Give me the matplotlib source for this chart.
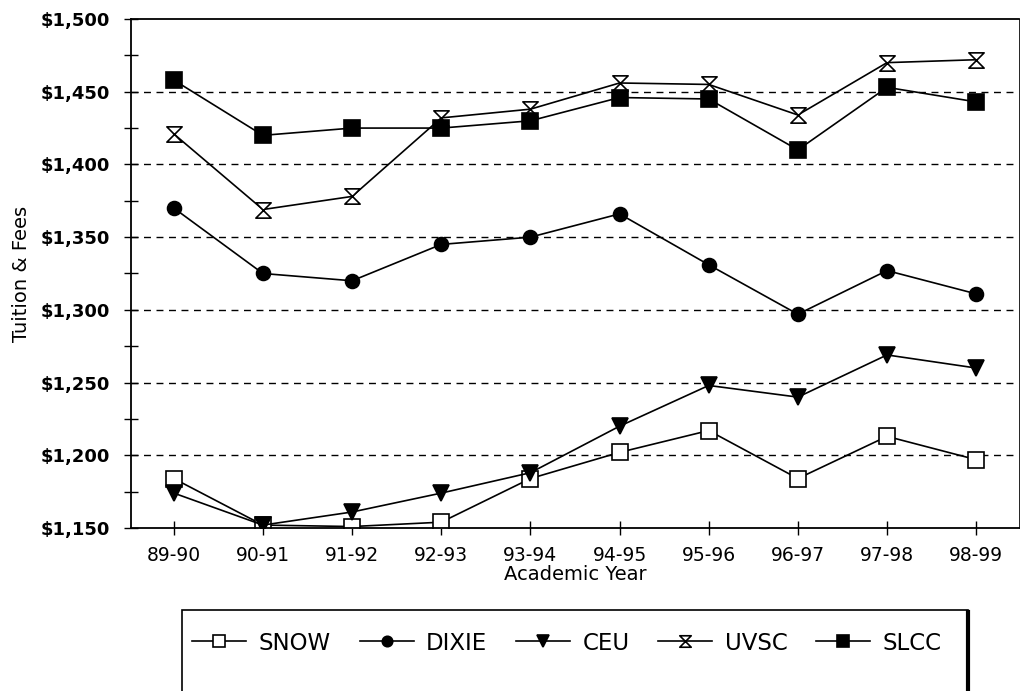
#!/usr/bin/env python3

import matplotlib.pyplot as plt
from matplotlib.path import Path
from matplotlib.patches import Rectangle
from matplotlib.lines import Line2D

plt.rcParams['font.family'] = ['DejaVu Sans']

years = ['89-90', '90-91', '91-92', '92-93', '93-94',
         '94-95', '95-96', '96-97', '97-98', '98-99']

snow = [1184, 1152, 1151, 1154, 1184, 1202, 1217, 1184, 1213, 1197]
dixie = [1370, 1325, 1320, 1345, 1350, 1366, 1331, 1297, 1327, 1311]
ceu = [1174, 1152, 1161, 1174, 1188, 1220, 1248, 1240, 1269, 1260]
uvsc = [1421, 1369, 1378, 1432, 1438, 1456, 1455, 1434, 1470, 1472]
slcc = [1458, 1420, 1425, 1425, 1430, 1446, 1445, 1410, 1453, 1443]

# hourglass marker for UVSC
hourglass = Path([(-1, 1), (1, 1), (-1, -1), (1, -1), (-1, 1)],
                 [Path.MOVETO, Path.LINETO, Path.LINETO, Path.LINETO, Path.CLOSEPOLY])

series = [
    ('SNOW', snow, dict(marker='s', markerfacecolor='white', markersize=11)),
    ('DIXIE', dixie, dict(marker='o', markerfacecolor='black', markersize=10)),
    ('CEU', ceu, dict(marker='v', markerfacecolor='black', markersize=12)),
    ('UVSC', uvsc, dict(marker=hourglass, markerfacecolor='white', markersize=11)),
    ('SLCC', slcc, dict(marker='s', markerfacecolor='black', markersize=11)),
]

fig = plt.figure(figsize=(10.21, 6.91), dpi=100)
ax = fig.add_axes([0.1283, 0.2359, 0.8697, 0.7366])

x = list(range(len(years)))
handles = []
for name, vals, style in series:
    h, = ax.plot(x, vals, color='black', lw=1.2, markeredgecolor='black',
                 markeredgewidth=1.2, label=name, **style)
    handles.append(h)

ax.set_xlim(-0.48, 9.48)
ax.set_ylim(1150, 1500)
ax.set_yticks(range(1150, 1501, 50))
ax.set_yticks(range(1175, 1500, 50), minor=True)
ax.set_yticklabels(['${:,}'.format(v) for v in range(1150, 1501, 50)],
                   fontsize=13, fontweight='bold')
ax.set_xticks(x)
ax.set_xticklabels(years, fontsize=13.5)
ax.tick_params(axis='both', which='both', direction='inout', length=10, width=1)
ax.tick_params(axis='x', pad=8)
ax.tick_params(axis='y', which='major', pad=10)

for v in range(1200, 1451, 50):
    ax.axhline(v, color='black', lw=1, ls=(0, (5, 4)), zorder=0)

for s in ['left', 'bottom', 'top']:
    ax.spines[s].set_linewidth(1.3)
ax.spines['right'].set_linewidth(0.6)

ax.set_xlabel('Academic Year', fontsize=14, labelpad=0)
ax.set_ylabel('Tuition & Fees', fontsize=14, labelpad=7)

# legend box that runs off the bottom of the page
box = Rectangle((182 / 1021, -0.05), (968 - 182) / 1021, 0.05 + (691 - 610) / 691,
                transform=fig.transFigure, fill=False, edgecolor='black', lw=1.2)
fig.patches.append(box)
fig.add_artist(Line2D([968 / 1021, 968 / 1021], [0, (691 - 612) / 691],
                      transform=fig.transFigure, color='black', lw=3))

fig.legend(handles=handles, loc='center', bbox_to_anchor=(567 / 1021, 1 - 643 / 691),
           ncol=5, frameon=False, fontsize=16.5, handlelength=2.35,
           columnspacing=1.25, handletextpad=0.55, markerscale=0.75)

fig.savefig('out.png', dpi=100)
